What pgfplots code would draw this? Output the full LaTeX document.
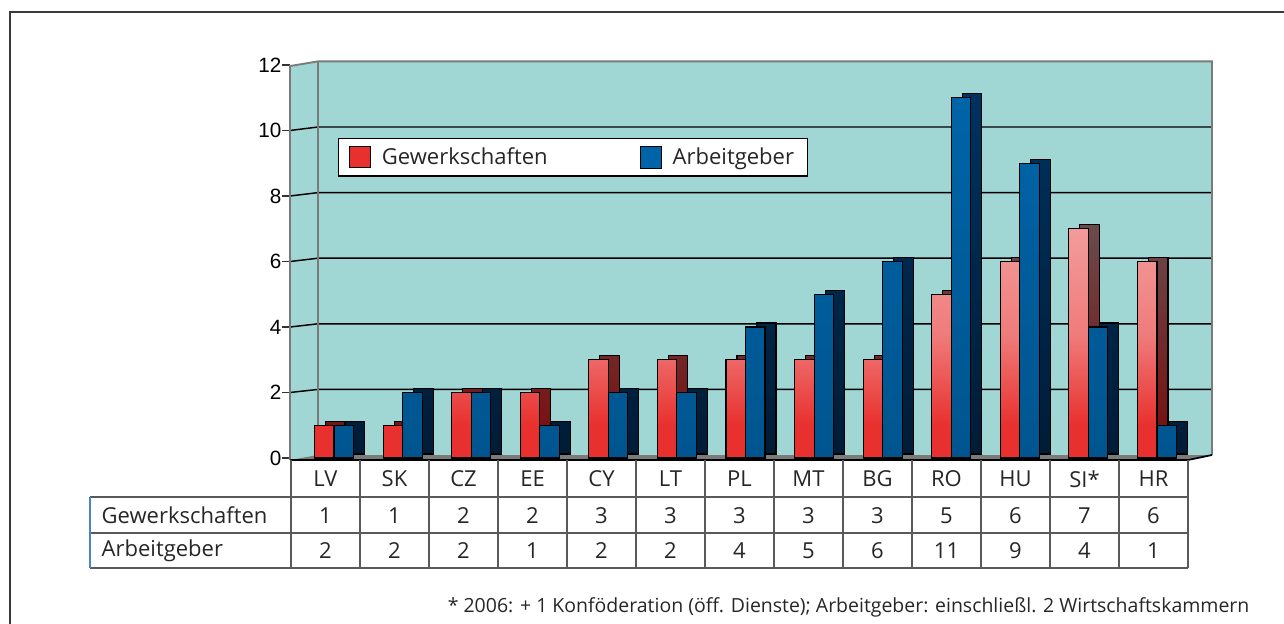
\documentclass[border=0pt]{standalone}
\usepackage{pgfplots}
\pgfplotsset{compat=1.18}
\usepackage{fontspec}
\setmainfont{Open Sans}
\newfontfamily\arialfont{Liberation Sans}
\definecolor{wallc}{HTML}{A0D6D4}
\definecolor{redA}{HTML}{F29C9B}
\definecolor{redM}{HTML}{EF7C7B}
\definecolor{redB}{HTML}{E8302E}
\definecolor{blueF}{HTML}{0064A8}
\definecolor{blueF2}{HTML}{00558F}
\definecolor{blueS}{HTML}{00325F}
\definecolor{blueS2}{HTML}{001C36}
\definecolor{redS}{HTML}{6B4B4D}
\definecolor{redS2}{HTML}{7A0A0A}
\definecolor{framec}{HTML}{3A3A3A}
\definecolor{tabline}{HTML}{5A5A5A}
\definecolor{tabblue}{HTML}{4A86C5}
\definecolor{wallgray}{HTML}{7A7A7A}
\pgfdeclareverticalshading{redbar}{100bp}{color(0bp)=(redB); color(25bp)=(redB); color(32bp)=(redB); color(52bp)=(redM); color(75bp)=(redA); color(100bp)=(redA)}
\newcommand{\tabfont}{\fontsize{16.5}{18}\selectfont}
\begin{document}
\begin{tikzpicture}
\useasboundingbox (0,0) rectangle (963pt,-468pt);
\begin{scope}[x=0.75pt,y=-0.75pt]
  \draw[color=framec, line width=1.5pt] (10,660) -- (10,12) -- (1320,12);
\end{scope}
\begin{axis}[
  at={(217.5pt,-345pt)}, anchor=south west,
  x=51.435pt, y=24.5625pt,
  xmin=-0.6416, xmax=12.802, ymin=-0.061, ymax=12.153,
  clip=false,
  axis x line=none, axis y line*=left,
  y axis line style={draw=none},
  ytick={0,2,4,6,8,10,12},
  yticklabels={0,2,4,6,8,10,12},
  tick align=outside, major tick length=6pt,
  ytick style={black!80, line width=0.9pt},
  yticklabel style={font=\arialfont\fontsize{15.5}{17}\selectfont, xshift=3pt},
  legend image code/.code={\draw[#1] (0pt,-8pt) rectangle (15.75pt,8.25pt);},
  legend style={at={(0.05206,0.805)}, anchor=north west, draw=black, line width=0.8pt,
    fill=white, font=\tabfont, text=black!85, legend columns=2, inner xsep=8pt, inner ysep=5pt,
    /tikz/every odd column/.append style={column sep=6pt},
    /tikz/every even column/.append style={column sep=67.5pt}},
]
% back wall and left wall
\fill[wallc] (axis cs:-0.6416,-0.061) -- (axis cs:-0.6416,11.969) -- (axis cs:-0.2333,12.11)
   -- (axis cs:12.802,12.11) -- (axis cs:12.802,0.0916) -- (axis cs:12.453,-0.061) -- cycle;
% grid lines
\pgfplotsinvokeforeach{2,4,6,8,10}{
  \draw[black, line width=1.1pt] (axis cs:-0.6416,#1) -- (axis cs:-0.2333,#1*1.0015+0.0916) -- (axis cs:12.802,#1*1.0015+0.0916);
}
% wall edges
\draw[wallgray, line width=1.4pt] (axis cs:-0.6416,-0.061) -- (axis cs:-0.6416,11.969) -- (axis cs:-0.2333,12.11) -- (axis cs:12.802,12.11) -- (axis cs:12.802,0.0916);
\draw[wallgray, line width=1.4pt] (axis cs:-0.2333,0.0916) -- (axis cs:-0.2333,12.11);
% floor
\fill[wallgray] (axis cs:-0.6416,-0.061) -- (axis cs:12.453,-0.061) -- (axis cs:12.802,0.0916) -- (axis cs:-0.2333,0.0916) -- cycle;
\draw[black, line width=1.3pt] (axis cs:-0.6416,-0.061) -- (axis cs:12.453,-0.061) -- (axis cs:12.802,0.0916);

% side faces (depth)
\addplot[ybar, forget plot, bar width=14.625pt, bar shift=0.9375pt, yshift=3pt,
  draw=black, line width=0.8pt, top color=redS, bottom color=redS2]
  coordinates {(0,1) (1,1) (2,2) (3,2) (4,3) (5,3) (6,3) (7,3) (8,3) (9,5) (10,6) (11,7) (12,6)};
\addplot[ybar, forget plot, bar width=14.625pt, bar shift=15.5625pt, yshift=3pt,
  draw=black, line width=0.8pt, top color=blueS, bottom color=blueS2]
  coordinates {(0,1) (1,2) (2,2) (3,1) (4,2) (5,2) (6,4) (7,5) (8,6) (9,11) (10,9) (11,4) (12,1)};
% front faces
\addplot[ybar, forget plot, bar width=14.625pt, bar shift=-7.3125pt,
  draw=black, line width=0.8pt, shade, shading=redbar]
  coordinates {(0,1) (1,1) (2,2) (3,2) (4,3) (5,3) (6,3) (7,3) (8,3) (9,5) (10,6) (11,7) (12,6)};
\addplot[ybar, forget plot, bar width=14.625pt, bar shift=7.3125pt,
  draw=black, line width=0.8pt, top color=blueF, bottom color=blueF2]
  coordinates {(0,1) (1,2) (2,2) (3,1) (4,2) (5,2) (6,4) (7,5) (8,6) (9,11) (10,9) (11,4) (12,1)};

\addlegendimage{fill=redB, draw=none}
\addlegendentry{Gewerkschaften}
\addlegendimage{fill=blueF, draw=black, line width=0.6pt}
\addlegendentry{Arbeitgeber}
\end{axis}
\begin{scope}[x=0.75pt,y=-0.75pt]
  % table lines
  \foreach \k in {0,...,13} {
    \draw[tabline, line width=1pt] (291+69*\k,460) -- (291+69*\k,568);
  }
  \foreach \yy in {497,533,568} {
    \draw[tabline, line width=1pt] (90,\yy) -- (1188,\yy);
  }
  \draw[tabblue, line width=1pt] (90,497) -- (90,568);
  \foreach \lab [count=\k from 0] in {LV,SK,CZ,EE,CY,LT,PL,MT,BG,RO,HU,SI*,HR} {
    \node[font=\tabfont, text=black!85] at (325.5+69*\k,479) {\lab};
  }
  \foreach \v [count=\k from 0] in {1,1,2,2,3,3,3,3,3,5,6,7,6} {
    \node[font=\tabfont, text=black!85] at (325.5+69*\k,515.5) {\v};
  }
  \foreach \v [count=\k from 0] in {2,2,2,1,2,2,4,5,6,11,9,4,1} {
    \node[font=\tabfont, text=black!85] at (325.5+69*\k,551) {\v};
  }
  \node[font=\tabfont, text=black!85, anchor=west] at (97,515.5) {Gewerkschaften};
  \node[font=\tabfont, text=black!85, anchor=west] at (97,551) {Arbeitgeber};
  \node[font=\fontsize{14.6}{16}\selectfont, text=black!85, anchor=east] at (1254,607)
    {* 2006: + 1 Konföderation (öff. Dienste); Arbeitgeber: einschließl. 2 Wirtschaftskammern};
\end{scope}
\end{tikzpicture}
\end{document}
